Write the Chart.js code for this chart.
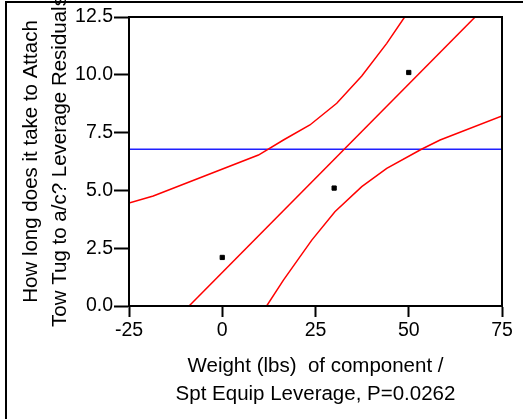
<!DOCTYPE html>
<html>
<head>
<meta charset="utf-8">
<script src="https://cdn.jsdelivr.net/npm/chart.js@4/dist/chart.umd.min.js"></script>
<style>
html,body{margin:0;padding:0;background:#fff;}
#wrap{width:523px;height:419px;position:relative;}
</style>
</head>
<body>
<div id="wrap"><canvas id="c" width="523" height="419"></canvas></div>
<script>
// Data
const pointX = [0, 30, 50];
const pointY = [2.1, 5.1, 10.1];

const fitX = [-8.9, 67.8];
const fitY = [0, 12.5];

const meanY = 6.78;
const meanX = [-25, 75];

const upperX = [-25, -18.5, 9.7, 16.4, 23.5, 30.7, 37.4, 44.1, 48.9];
const upperY = [4.45, 4.76, 6.53, 7.18, 7.83, 8.77, 9.95, 11.36, 12.5];

const lowerX = [11.9, 16.4, 24, 30.2, 37.4, 44.1, 53.4, 58.4, 75];
const lowerY = [0, 1.12, 2.85, 4.08, 5.16, 5.95, 6.78, 7.18, 8.22];

const xTickLabels = ['-25', '0', '25', '50', '75'];
const yTickLabels = ['0.0', '2.5', '5.0', '7.5', '10.0', '12.5'];

const xTitle = ['Weight (lbs)  of component /', 'Spt Equip Leverage, P=0.0262'];
const yTitle = ['How long does it take to Attach', 'Tow Tug to a/c? Leverage Residuals'];

const zip = (xs, ys) => xs.map((x, i) => ({x: x, y: ys[i]}));

const FONT = "'Liberation Sans', Arial, Helvetica, sans-serif";

const framePlugin = {
  id: 'frames',
  beforeDraw(chart) {
    const ctx = chart.ctx;
    ctx.save();
    ctx.fillStyle = '#fff';
    ctx.fillRect(0, 0, chart.width, chart.height);
    ctx.strokeStyle = '#000';
    ctx.lineWidth = 2;
    ctx.strokeRect(6, 2, 600, 600);
    ctx.restore();
  },
  afterDatasetsDraw(chart) {
    const a = chart.chartArea;
    const ctx = chart.ctx;
    ctx.save();
    ctx.strokeStyle = '#000';
    ctx.lineWidth = 2;
    ctx.strokeRect(a.left, a.top, a.right - a.left, a.bottom - a.top);
    ctx.restore();
  }
};

new Chart(document.getElementById('c'), {
  type: 'scatter',
  data: {
    datasets: [
      {
        label: 'mean',
        data: zip(meanX, [meanY, meanY]),
        showLine: true,
        borderColor: '#2020ff',
        borderWidth: 1.5,
        pointRadius: 0,
        order: 3
      },
      {
        label: 'fit',
        data: zip(fitX, fitY),
        showLine: true,
        borderColor: '#ff0000',
        borderWidth: 1.5,
        pointRadius: 0,
        order: 2
      },
      {
        label: 'upper',
        data: zip(upperX, upperY),
        showLine: true,
        borderColor: '#ff0000',
        borderWidth: 1.5,
        pointRadius: 0,
        order: 2
      },
      {
        label: 'lower',
        data: zip(lowerX, lowerY),
        showLine: true,
        borderColor: '#ff0000',
        borderWidth: 1.5,
        pointRadius: 0,
        order: 2
      },
      {
        label: 'points',
        data: zip(pointX, pointY),
        pointStyle: 'rect',
        pointRadius: 3,
        borderWidth: 1,
        backgroundColor: '#000',
        borderColor: '#000',
        order: 1
      }
    ]
  },
  options: {
    responsive: false,
    animation: false,
    events: [],
    layout: { padding: { left: 0, top: 17, right: 21, bottom: 0 } },
    plugins: { legend: { display: false }, tooltip: { enabled: false } },
    scales: {
      x: {
        type: 'linear',
        min: -25, max: 75,
        afterFit(s) { s.height = 113; },
        afterBuildTicks(s) { s.ticks = xTickLabels.map(v => ({value: parseFloat(v)})); },
        ticks: {
          color: '#000',
          padding: 2,
          font: { family: FONT, size: 19.5 },
          callback: (v) => xTickLabels[xTickLabels.map(parseFloat).indexOf(v)]
        },
        grid: { drawOnChartArea: false, tickLength: 11, tickWidth: 2, tickColor: '#000' },
        border: { color: '#000', width: 2 },
        title: {
          display: true,
          text: xTitle,
          color: '#000',
          font: { family: FONT, size: 20.5, lineHeight: 1.4 },
          padding: { top: 0, bottom: 10 }
        }
      },
      y: {
        type: 'linear',
        min: 0, max: 12.5,
        afterFit(s) { s.width = 129; },
        afterBuildTicks(s) { s.ticks = yTickLabels.map(v => ({value: parseFloat(v)})); },
        ticks: {
          color: '#000',
          padding: 1,
          font: { family: FONT, size: 19.5 },
          callback: (v) => yTickLabels[yTickLabels.map(parseFloat).indexOf(v)]
        },
        grid: { drawOnChartArea: false, tickLength: 15, tickWidth: 2, tickColor: '#000' },
        border: { color: '#000', width: 2 },
        title: {
          display: true,
          text: yTitle,
          color: '#000',
          font: { family: FONT, size: 20.5, lineHeight: 1.42 },
          padding: { top: 16.5, bottom: 0 }
        }
      }
    }
  },
  plugins: [framePlugin]
});
</script>
</body>
</html>
